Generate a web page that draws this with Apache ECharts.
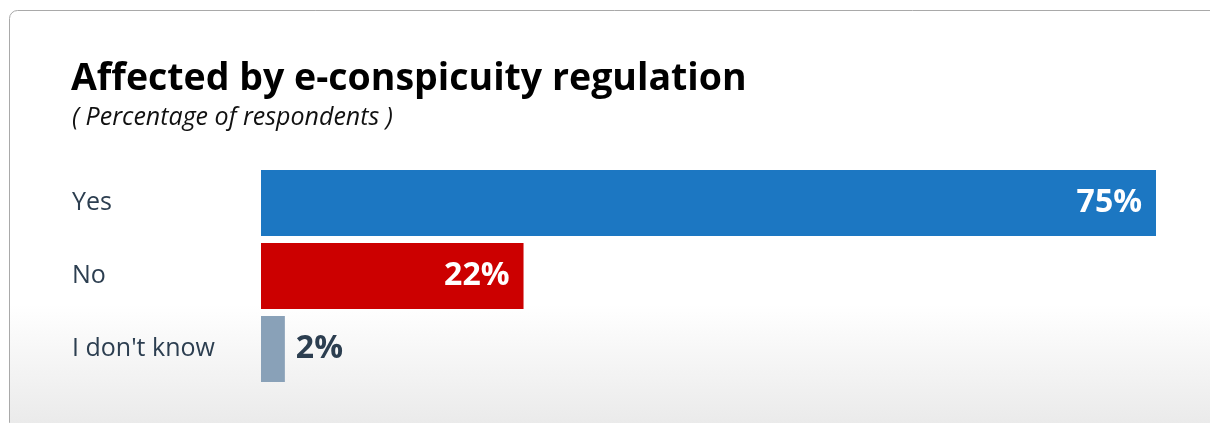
<!DOCTYPE html>
<html>
<head>
<meta charset="utf-8">
<script src="https://cdn.jsdelivr.net/npm/echarts@6/dist/echarts.min.js"></script>
<style>
  html, body { margin: 0; padding: 0; background: #ffffff; }
  #chart { width: 1210px; height: 423px; }
</style>
</head>
<body>
<div id="chart"></div>
<script>
// Survey answers and their shares (percent of respondents)
const categories = ['Yes', 'No', "I don't know"];
const shares = [75, 22, 2];

// Bar fills, one per answer
const barColors = ['#1c77c2', '#cc0000', '#89a1b8'];

const FONT = '"Open Sans", "Noto Sans", sans-serif';
const chart = echarts.init(document.getElementById('chart'), null, { renderer: 'canvas' });

chart.setOption({
  animation: false,
  backgroundColor: '#ffffff',
  graphic: [
    {
      type: 'rect', z: -10, silent: true,
      shape: { x: 9.5, y: 10.5, width: 1300, height: 420, r: 8 },
      style: {
        stroke: '#a9a9a9', lineWidth: 1,
        fill: new echarts.graphic.LinearGradient(0, 0, 0, 1, [
          { offset: 0, color: '#ffffff' },
          { offset: 0.7, color: '#ffffff' },
          { offset: 1, color: '#e9e9e9' }
        ])
      }
    },
    {
      type: 'text', left: 71, top: 60,
      style: { text: 'Affected by e-conspicuity regulation', font: 'bold 37.5px ' + FONT, fill: '#000000' }
    },
    {
      type: 'text', left: 72, top: 105,
      style: { text: '( Percentage of respondents )', font: 'italic 25px ' + FONT, fill: '#111111' }
    }
  ],
  grid: { left: 261, right: 54, top: 166.5, height: 219, containLabel: false },
  xAxis: {
    type: 'value', min: 0, max: 75, show: false
  },
  yAxis: {
    type: 'category', data: categories, inverse: true,
    axisLine: { show: false }, axisTick: { show: false }, splitLine: { show: false },
    axisLabel: {
      align: 'left', margin: 189,
      fontFamily: FONT, fontSize: 25, color: '#2c3e50'
    }
  },
  series: [{
    type: 'bar',
    barCategoryGap: '9.6%',
    data: shares.map((v, i) => ({
      value: v,
      itemStyle: { color: barColors[i] },
      label: v < 10
        ? { position: 'right', distance: 11, color: '#2c3e50' }
        : { position: 'insideRight', distance: 14, color: '#ffffff' }
    })),
    label: {
      show: true,
      formatter: '{c}%',
      fontFamily: FONT, fontWeight: 'bold', fontSize: 32
    }
  }]
});
</script>
</body>
</html>
